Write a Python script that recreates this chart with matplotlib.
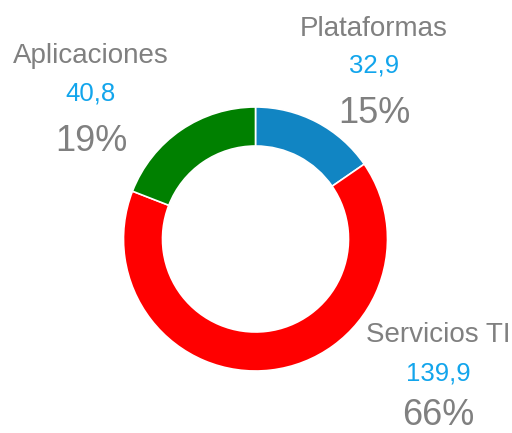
import matplotlib
matplotlib.use('Agg')
import matplotlib.pyplot as plt

labels = ['Plataformas', 'Servicios TI', 'Aplicaciones']
values = [32.9, 139.9, 40.8]
value_text = ['32,9', '139,9', '40,8']
pct_text = ['15%', '66%', '19%']
colors = ['#1185C3', '#FF0000', '#008000']

GRAY = '#808080'
BLUE = '#12A5EC'
FONT = ['Liberation Sans', 'DejaVu Sans']

W, H = 512, 433
fig = plt.figure(figsize=(W / 100, H / 100), dpi=100)
ax = fig.add_axes([0, 0, 1, 1])

ax.pie(values, colors=colors, startangle=90, counterclock=False,
       center=(255.5, H - 239), radius=132,
       wedgeprops=dict(width=39, edgecolor='white', linewidth=1.2),
       frame=True)
ax.set_xlim(0, W)
ax.set_ylim(0, H)
ax.set_aspect('equal')
ax.axis('off')

# label block anchors: (x centre, baselines of name, value, percent) in px from top
blocks = {
    'Plataformas': (374, 36, 73, 123),
    'Servicios TI': (438, 342, 381, 425),
    'Aplicaciones': (91, 63, 101, 151),
}
for name, vt, pt in zip(labels, value_text, pct_text):
    x, y1, y2, y3 = blocks[name]
    ax.text(x, H - y1, name, ha='center', va='baseline', color=GRAY,
            fontsize=20, family=FONT)
    ax.text(x, H - y2, vt, ha='center', va='baseline', color=BLUE,
            fontsize=18.5, family=FONT)
    ax.text(x, H - y3, pt, ha='center', va='baseline', color=GRAY,
            fontsize=26, family=FONT)

fig.savefig('out.png', dpi=100)
